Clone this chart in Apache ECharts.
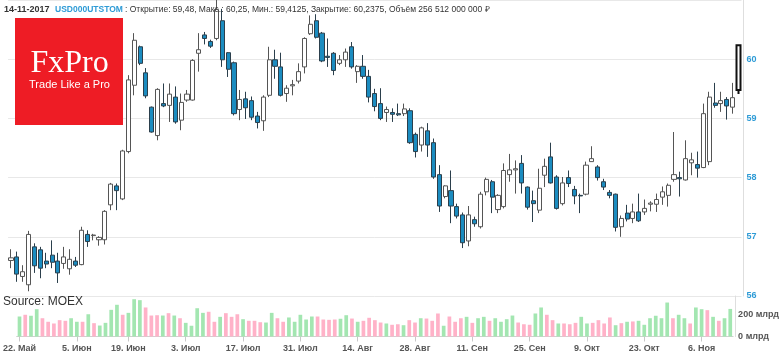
<!DOCTYPE html>
<html>
<head>
<meta charset="utf-8">
<script src="https://cdn.jsdelivr.net/npm/echarts@6/dist/echarts.min.js"></script>
<style>html,body{margin:0;padding:0;background:#fff}#c{width:782px;height:355px}</style>
</head>
<body>
<div id="c"></div>
<script>
var dates = ['22.05','23.05','24.05','25.05','26.05','29.05','30.05','31.05',
'01.06','02.06','05.06','06.06','07.06','08.06','09.06','13.06','14.06','15.06','16.06','19.06','20.06','21.06','22.06','23.06','26.06','27.06','28.06','29.06','30.06',
'03.07','04.07','05.07','06.07','07.07','10.07','11.07','12.07','13.07','14.07','17.07','18.07','19.07','20.07','21.07','24.07','25.07','26.07','27.07','28.07','31.07',
'01.08','02.08','03.08','04.08','07.08','08.08','09.08','10.08','11.08','14.08','15.08','16.08','17.08','18.08','21.08','22.08','23.08','24.08','25.08','28.08','29.08','30.08','31.08',
'01.09','04.09','05.09','06.09','07.09','08.09','11.09','12.09','13.09','14.09','15.09','18.09','19.09','20.09','21.09','22.09','25.09','26.09','27.09','28.09','29.09',
'02.10','03.10','04.10','05.10','06.10','09.10','10.10','11.10','12.10','13.10','16.10','17.10','18.10','19.10','20.10','23.10','24.10','25.10','26.10','27.10','30.10','31.10',
'01.11','02.11','03.11','07.11','08.11','09.11','10.11','13.11','14.11'];

var tickLabels = {'22.05':'22. Май','05.06':'5. Июн','19.06':'19. Июн','03.07':'3. Июл','17.07':'17. Июл','31.07':'31. Июл',
'14.08':'14. Авг','28.08':'28. Авг','11.09':'11. Сен','25.09':'25. Сен','09.10':'9. Окт','23.10':'23. Окт','07.11':'6. Ноя'};

var open = [56.60,56.66,56.33,56.19,56.83,56.78,56.59,56.69,56.59,56.55,56.46,56.59,56.53,57.04,57.02,56.95,56.95,57.54,57.86,57.64,
58.44,59.56,60.21,59.77,59.19,58.71,59.25,59.22,59.36,58.97,59.31,59.31,60.10,60.41,60.30,60.35,60.65,60.11,59.94,59.15,
59.33,59.30,59.04,58.96,59.39,59.99,59.87,59.42,59.55,59.63,59.87,60.43,60.65,60.44,60.05,60.10,59.93,59.99,60.21,59.79,
59.88,59.71,59.42,59.25,59.10,59.10,59.08,59.08,59.13,58.73,58.55,58.79,58.59,58.05,57.68,57.78,57.51,57.37,56.93,57.29,
57.17,57.76,57.93,57.46,57.51,58.05,58.13,58.24,57.84,57.61,57.45,58.04,58.35,58.01,57.56,58.00,57.80,57.70,57.72,58.27,
58.18,57.93,57.75,57.72,57.17,57.40,57.31,57.42,57.42,57.55,57.55,57.67,57.70,57.97,58.00,57.96,58.25,58.22,58.17,58.27,
59.26,59.25,59.32,59.19,59.48];
var high = [56.79,56.75,56.52,57.10,56.89,56.83,56.73,56.94,56.73,56.83,56.79,56.66,57.17,57.11,57.05,57.01,57.45,57.91,57.90,58.47,
59.73,60.44,60.23,59.85,59.20,59.51,59.59,59.59,59.54,59.42,59.48,60.00,60.44,60.46,60.33,61.00,60.85,60.12,59.96,59.48,
59.45,59.37,59.11,59.39,60.21,60.16,60.11,59.56,59.65,59.93,60.37,60.74,60.76,60.46,60.35,60.12,60.07,60.18,60.29,59.90,
60.07,59.82,59.50,59.51,59.20,59.17,59.25,59.25,59.17,58.76,58.86,58.92,58.66,58.21,57.87,58.12,57.56,57.41,57.52,57.34,
57.76,58.00,57.96,57.72,58.24,58.40,58.29,58.38,57.85,57.78,58.15,58.32,58.59,58.04,58.01,58.12,57.86,57.73,58.27,58.53,
58.21,57.98,57.79,57.73,57.36,57.54,57.56,57.73,57.63,57.60,57.73,57.85,57.90,58.77,58.10,58.63,58.42,58.44,59.25,59.45,
59.60,59.45,59.36,59.60,60.25];
var low = [56.47,56.24,56.24,56.08,56.39,56.30,56.47,56.47,56.22,56.46,56.36,56.49,56.52,56.83,56.94,56.85,56.87,57.45,57.45,57.62,
58.41,59.39,59.90,59.34,58.76,58.63,59.19,58.94,58.91,58.80,59.28,59.30,59.79,60.25,60.19,60.32,59.87,59.70,59.05,58.97,
58.99,58.97,58.83,58.79,59.36,59.67,59.37,59.28,59.39,59.59,59.76,60.41,60.35,59.95,59.87,59.73,59.90,59.87,59.84,59.60,
59.67,59.27,59.12,58.97,58.94,58.94,59.04,59.04,58.57,58.34,58.44,58.35,57.98,57.42,57.65,57.23,57.31,56.81,56.84,57.17,
57.14,57.70,57.40,57.40,57.48,57.93,57.73,57.73,57.46,57.25,57.40,57.84,57.90,57.46,57.53,57.84,57.55,57.40,57.70,58.27,
57.95,57.79,57.65,57.09,57.00,57.26,57.23,57.25,57.37,57.43,57.42,57.54,57.51,57.93,57.68,57.95,58.04,58.00,58.16,58.21,
59.18,59.11,58.98,59.08,59.4125];
var close = [56.645,56.37,56.41,57.04,56.51,56.47,56.54,56.57,56.39,56.66,56.62,56.52,57.11,56.92,57.03,56.99,57.43,57.89,57.78,58.45,
59.65,60.32,59.93,59.38,58.77,59.49,59.21,59.41,58.94,59.27,59.41,59.98,60.16,60.35,60.22,60.84,59.99,59.83,59.08,59.32,
59.18,59.02,58.93,59.36,59.99,59.88,59.39,59.51,59.57,59.79,60.35,60.59,60.37,59.97,60.03,59.81,59.99,60.12,59.87,59.88,
59.71,59.36,59.20,59.00,59.15,59.07,59.06,59.16,58.59,58.44,58.84,58.55,58.01,57.52,57.86,57.52,57.35,56.90,57.37,57.22,
57.72,57.97,57.67,57.70,58.12,58.13,58.15,57.91,57.50,57.56,57.82,58.19,57.91,57.48,57.91,57.90,57.69,57.69,58.21,58.32,
58.00,57.84,57.70,57.16,57.31,57.30,57.42,57.27,57.48,57.57,57.63,57.76,57.87,58.05,57.98,58.32,58.30,58.16,59.08,59.36,
59.22,59.30,59.21,59.35,60.2375];
// объём, млрд ₽
var volume = [186,202,193,254,170,137,121,152,146,170,137,137,207,124,102,127,248,295,202,220,
347,338,270,195,198,195,217,195,170,127,100,263,220,230,137,183,217,183,207,161,
146,146,133,130,220,170,137,177,137,202,158,186,186,158,155,158,165,198,167,137,
146,174,152,130,121,109,114,105,152,130,170,167,146,214,100,186,137,170,183,127,
170,183,146,170,137,161,195,130,114,109,214,270,202,152,121,121,114,127,183,121,
127,152,121,177,105,124,137,140,146,109,170,193,170,316,170,202,170,121,270,254,
245,183,146,170,256.5];
var priceTicks = [56, 57, 58, 59, 60];
var volumeTicks = [0, 200];

var UP_VOL = '#a3e6b1', DOWN_VOL = '#ffb2c8';
var last = dates.length - 1;
var candleData = dates.map(function (d, i) {
  var item = { value: [open[i], close[i], low[i], high[i]] };
  if (i === last) item.itemStyle = { borderColor: '#111', borderColor0: '#111', borderWidth: 2 };
  return item;
});
var volData = dates.map(function (d, i) {
  return { value: volume[i], itemStyle: { color: close[i] >= open[i] ? UP_VOL : DOWN_VOL } };
});
function isTick(idx, val) { return tickLabels.hasOwnProperty(val); }

var chart = echarts.init(document.getElementById('c'), null, { renderer: 'canvas' });
var gl = 8.07, gw = 733.4;
chart.setOption({
  animation: false,
  backgroundColor: '#fff',
  grid: [
    { left: gl, width: gw, top: -0.25, height: 296.25 },
    { left: gl, width: gw, top: 296, height: 40.5 }
  ],
  xAxis: [
    { type: 'category', gridIndex: 0, data: dates, boundaryGap: true,
      axisLine: { show: false }, axisTick: { show: false }, axisLabel: { show: false }, splitLine: { show: false } },
    { type: 'category', gridIndex: 1, data: dates, boundaryGap: true,
      axisLine: { show: true, lineStyle: { color: '#d0d0d0', width: 1 } },
      axisTick: { show: true, interval: isTick, alignWithLabel: true, length: 5, lineStyle: { color: '#c8c8c8' } },
      axisLabel: { show: true, interval: isTick, margin: 8, color: '#555', fontSize: 9, fontWeight: 'bold',
        fontFamily: 'Liberation Sans, Arial, sans-serif',
        formatter: function (v) { return tickLabels[v] || ''; } },
      splitLine: { show: false } }
  ],
  yAxis: [
    { type: 'value', gridIndex: 0, position: 'right', min: priceTicks[0], max: 61, interval: 1, offset: 2,
      axisLine: { show: true, lineStyle: { color: '#dedede' } }, axisTick: { show: false },
      axisLabel: { color: '#2e9bd6', fontSize: 9, fontWeight: 'bold', margin: 3, showMaxLabel: false,
        fontFamily: 'Liberation Sans, Arial, sans-serif' },
      splitLine: { show: true, lineStyle: { color: '#e8e8e8', width: 1 } } },
    { type: 'value', gridIndex: 1, position: 'right', min: volumeTicks[0], max: 376.7, interval: volumeTicks[1] - volumeTicks[0], offset: 2,
      axisLine: { show: true, lineStyle: { color: '#dedede' } }, axisTick: { show: false },
      axisLabel: { color: '#555', fontSize: 9, fontWeight: 'bold', margin: 3, showMaxLabel: false,
        fontFamily: 'Liberation Sans, Arial, sans-serif',
        formatter: function (v) { return v + ' млрд'; } },
      splitLine: { show: false } }
  ],
  series: [
    { type: 'candlestick', xAxisIndex: 0, yAxisIndex: 0, data: candleData, barWidth: 4.6,
      itemStyle: { color: '#ffffff', color0: '#1b8cc0', borderColor: '#555555', borderColor0: '#2b3f4c', borderWidth: 1 } },
    { type: 'bar', xAxisIndex: 1, yAxisIndex: 1, data: volData, barWidth: 3.7 }
  ],
  graphic: [
    { type: 'rect', z: 100, shape: { x: 15, y: 18, width: 108, height: 107 }, style: { fill: '#ee1c25' } },
    { type: 'text', z: 101, x: 69.5, y: 64, style: { text: 'FxPro', fill: '#fff', font: '32px "Liberation Serif", "DejaVu Serif", serif', align: 'center', verticalAlign: 'middle' } },
    { type: 'text', z: 101, x: 69.5, y: 85, style: { text: 'Trade Like a Pro', fill: '#fff', font: '11px "Liberation Sans", Arial, sans-serif', align: 'center', verticalAlign: 'middle' } },
    { type: 'text', z: 101, x: 4, y: 10, style: { text: '14-11-2017', fill: '#333', font: 'bold 9px "Liberation Sans", Arial, sans-serif', verticalAlign: 'middle' } },
    { type: 'text', z: 101, x: 55, y: 10, style: { text: 'USD000UTSTOM', fill: '#2e9bd6', font: 'bold 8.5px "Liberation Sans", Arial, sans-serif', verticalAlign: 'middle' } },
    { type: 'text', z: 101, x: 125, y: 10, style: { text: ': Открытие: 59,48, Макс.: 60,25, Мин.: 59,4125, Закрытие: 60,2375, Объём 256 512 000 000 ₽', fill: '#333', font: '8.5px "Liberation Sans", Arial, sans-serif', verticalAlign: 'middle' } },
    { type: 'text', z: 101, x: 3, y: 302, style: { text: 'Source: MOEX', fill: '#333', font: '12px "Liberation Sans", Arial, sans-serif', verticalAlign: 'middle' } }
  ]
});
</script>
</body>
</html>
